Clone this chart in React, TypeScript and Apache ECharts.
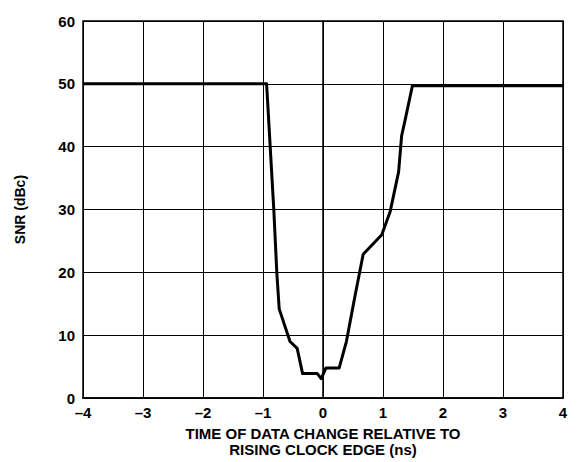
import React, { useEffect, useRef } from "react";
import * as echarts from "echarts";

const xValues = [-4, -0.94, -0.82, -0.77, -0.73, -0.55, -0.43, -0.34, -0.095, -0.03, 0.05, 0.27, 0.39, 0.53, 0.67, 0.98, 1.12, 1.26, 1.31, 1.37, 1.49, 4];
const snrValues = [50, 50, 30, 20, 14.2, 9.0, 7.9, 3.9, 3.9, 3.1, 4.8, 4.8, 9.0, 16.1, 22.9, 26.0, 29.7, 36.0, 41.7, 44.3, 49.7, 49.7];
const xTicks = [-4, -3, -2, -1, 0, 1, 2, 3, 4];
const yTicks = [0, 10, 20, 30, 40, 50, 60];

const font = "'Liberation Sans', Arial, sans-serif";

export default function App() {
  const ref = useRef<HTMLDivElement>(null);
  useEffect(() => {
    if (!ref.current) return;
    const chart = echarts.init(ref.current, undefined, { renderer: "svg" });
    chart.setOption({
      animation: false,
      backgroundColor: "#ffffff",
      grid: {
        left: 83,
        right: 19,
        top: 21,
        bottom: 58,
        show: true,
        borderColor: "#000",
        borderWidth: 1.5,
      },
      xAxis: {
        type: "value",
        min: xTicks[0],
        max: xTicks[xTicks.length - 1],
        interval: 1,
        name: "TIME OF DATA CHANGE RELATIVE TO\nRISING CLOCK EDGE (ns)",
        nameLocation: "middle",
        nameGap: 24,
        nameTextStyle: { fontFamily: font, fontWeight: "bold", fontSize: 15, color: "#000", lineHeight: 16 },
        axisLine: { show: true, lineStyle: { color: "#000", width: 1.5 } },
        axisTick: { show: false },
        axisLabel: {
          fontFamily: font,
          fontWeight: "bold",
          fontSize: 15,
          color: "#000",
          margin: 7,
          formatter: (v: number) => (v < 0 ? "\u2013" + Math.abs(v) : String(v)),
        },
        splitLine: { show: true, lineStyle: { color: "#000", width: 1 } },
      },
      yAxis: {
        type: "value",
        min: yTicks[0],
        max: yTicks[yTicks.length - 1],
        interval: 10,
        name: "SNR (dBc)",
        nameLocation: "middle",
        nameGap: 56,
        nameTextStyle: { fontFamily: font, fontWeight: "bold", fontSize: 14, color: "#000" },
        axisLine: { show: true, lineStyle: { color: "#000", width: 1.5 } },
        axisTick: { show: false },
        axisLabel: { fontFamily: font, fontWeight: "bold", fontSize: 15, color: "#000", margin: 8 },
        splitLine: { show: true, lineStyle: { color: "#000", width: 1 } },
      },
      series: [
        {
          type: "line",
          data: xValues.map((x, i) => [x, snrValues[i]]),
          showSymbol: false,
          symbol: "none",
          lineStyle: { color: "#000", width: 3, join: "round" },
        },
      ],
    });
    return () => chart.dispose();
  }, []);
  return <div ref={ref} style={{ width: 582, height: 462, position: "absolute", left: 0, top: 0 }} />;
}
